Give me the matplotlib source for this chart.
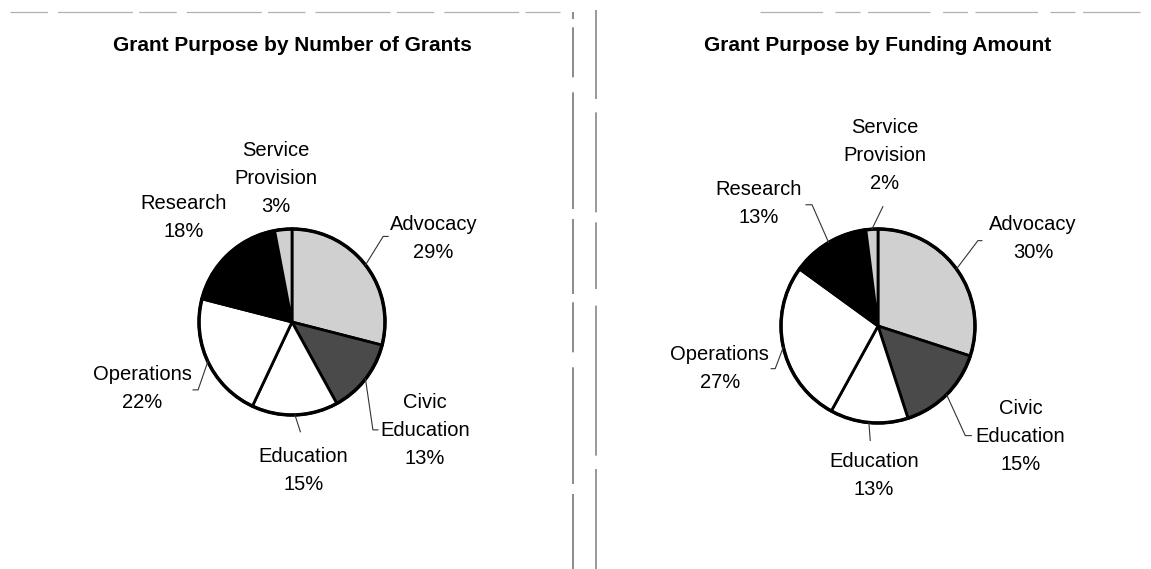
import matplotlib.pyplot as plt
import numpy as np

plt.rcParams['font.family'] = ['Liberation Sans', 'DejaVu Sans']

categories = ["Advocacy", "Civic\nEducation", "Education", "Operations", "Research", "Service\nProvision"]
grants_pct = [29, 13, 15, 22, 18, 3]
funding_pct = [30, 15, 13, 27, 13, 2]
titles = ["Grant Purpose by Number of Grants", "Grant Purpose by Funding Amount"]
colors = ["#d0d0d0", "#4a4a4a", "white", "white", "black", "#d0d0d0"]

W, H = 1151, 569
fig = plt.figure(figsize=(W / 100, H / 100), dpi=100)
ax = fig.add_axes([0, 0, 1, 1])

# layout: pie centre (px, from top), radius, label offsets and leader elbows in radius units
layouts = [
    dict(center=(292, 322), r=93,
         labels=[(1.52, 0.90), (1.43, -1.17), (0.12, -1.60), (-1.61, -0.72), (-1.17, 1.12), (-0.17, 1.54)],
         elbows=[(0.98, 0.92, 5), (0.87, -1.16, 5), (0.09, -1.18, 0), (-1.01, -0.73, -5), None, None]),
    dict(center=(878, 326), r=97,
         labels=[(1.60, 0.90), (1.47, -1.14), (-0.04, -1.54), (-1.63, -0.44), (-1.23, 1.26), (0.07, 1.76)],
         elbows=[(1.03, 0.88, 4), (0.90, -1.13, 6), (-0.08, -1.18, 0), (-1.06, -0.44, -4), (-0.68, 1.25, -6), (0.05, 1.23, 0)]),
]

for values, title, lay in zip([grants_pct, funding_pct], titles, layouts):
    cx, cy = lay["center"]
    cy = H - cy
    r = lay["r"]
    ax.pie(values, colors=colors, startangle=90, counterclock=False,
           center=(cx, cy), radius=r,
           wedgeprops=dict(edgecolor="black", linewidth=2))
    ax.add_patch(plt.Circle((cx, cy), r, fill=False, edgecolor="black", linewidth=2.5))
    ax.text(cx, H - 45, title, ha="center", va="center", fontsize=15, fontweight="bold")

    cum = 0
    for name, v, (lx, ly), elb in zip(categories, values, lay["labels"], lay["elbows"]):
        theta = np.deg2rad(90 - 360 * (cum + v / 2) / 100)
        cum += v
        ax.text(cx + lx * r, cy + ly * r, f"{name}\n{v}%", ha="center", va="center",
                fontsize=14.5, linespacing=1.6)
        if elb is not None:
            ex, ey, tick = elb
            px, py = cx + r * np.cos(theta), cy + r * np.sin(theta)
            qx, qy = cx + ex * r, cy + ey * r
            ax.plot([px, qx, qx + tick], [py, qy, qy], color="#333333", lw=0.8)

# scanned page rules
ax.plot([573, 573], [0, H - 12], color="#777777", lw=1.2, dashes=(45, 6, 70, 9, 30, 5))
ax.plot([596, 596], [0, H - 10], color="#888888", lw=1.2, dashes=(60, 8, 90, 10, 40, 6))
ax.plot([10, 560], [H - 12, H - 12], color="#b0b0b0", lw=0.9, dashes=(30, 8, 60, 5))
ax.plot([760, 1140], [H - 12, H - 12], color="#b0b0b0", lw=0.9, dashes=(50, 10, 20, 6))

ax.set_xlim(0, W)
ax.set_ylim(0, H)
ax.set_aspect("equal")
ax.axis("off")

fig.savefig("out.png", dpi=100)
